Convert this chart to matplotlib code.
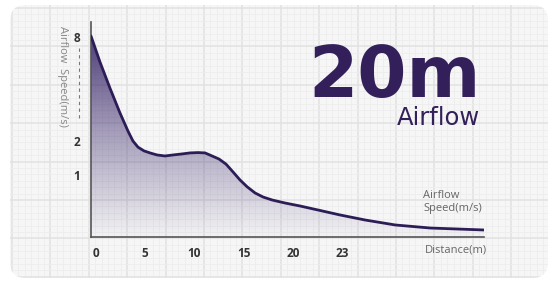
import numpy as np
import matplotlib
matplotlib.use("Agg")
import matplotlib.pyplot as plt
from matplotlib.patches import FancyBboxPatch
from matplotlib.colors import LinearSegmentedColormap
from matplotlib.lines import Line2D

# ---------------- data ----------------
distance = [-0.5, 0.41, 1.42, 2.44, 3.25, 3.76, 4.27, 4.88, 5.49, 6.2, 7.01, 7.83,
            8.74, 9.55, 10.37, 11.08, 11.79, 12.5, 13.21, 13.92, 14.63, 15.35, 16.16,
            16.97, 17.89, 19.21, 20.73, 22.56, 24.8, 27.34, 30.39, 33.94, 39.43]
speed = [8.06, 6.56, 5.06, 3.62, 2.58, 2.0, 1.82, 1.71, 1.65, 1.59, 1.56, 1.59,
         1.62, 1.65, 1.66, 1.65, 1.56, 1.47, 1.32, 1.09, 0.92, 0.81, 0.71,
         0.645, 0.597, 0.548, 0.5, 0.435, 0.355, 0.274, 0.194, 0.145, 0.113]
x_tick_pos = [0, 5, 10, 15, 20, 25]
x_tick_labels = ["0", "5", "10", "15", "20", "23"]
y_ticks = [1, 2, 8]
y_tick_labels = ["1", "2", "8"]
# break-axis mapping of values to visual height
y_vals = [0, 1, 2, 8, 9]
y_vis = [0, 62, 96, 200, 217.3]

W, H = 551, 283
fig = plt.figure(figsize=(W / 100, H / 100), dpi=100)
fig.patch.set_facecolor("white")

# ---------------- background card ----------------
bg = fig.add_axes([0, 0, 1, 1])
bg.set_xlim(0, W)
bg.set_ylim(H, 0)
bg.axis("off")
card = FancyBboxPatch((10, 5), 538, 273, boxstyle="round,pad=0,rounding_size=16",
                      facecolor="#f6f6f6", edgecolor="none")
bg.add_patch(card)
step = 6.4
for i, xv in enumerate(np.arange(12, 548, step)):
    major = i % 6 == 0
    ln = bg.plot([xv, xv], [5, 278], color="#e2e2e2" if major else "#ededed",
                 lw=1.1 if major else 0.6)[0]
    ln.set_clip_path(card)
for i, yv in enumerate(np.arange(8, 278, step)):
    major = i % 6 == 0
    ln = bg.plot([10, 548], [yv, yv], color="#e2e2e2" if major else "#ededed",
                 lw=1.1 if major else 0.6)[0]
    ln.set_clip_path(card)

# ---------------- main chart ----------------
ax_l, ax_r, ax_t, ax_b = 91, 484, 22, 237
ax = fig.add_axes([ax_l / W, 1 - ax_b / H, (ax_r - ax_l) / W, (ax_b - ax_t) / H])
ax.patch.set_alpha(0)

fwd = lambda v: np.interp(v, y_vals, y_vis)
inv = lambda v: np.interp(v, y_vis, y_vals)
ax.set_yscale("function", functions=(fwd, inv))
ax.set_xlim(-0.5, 39.4)
ax.set_ylim(0, 8.87)

line_color = "#2c1d57"
poly = ax.fill_between(distance, speed, 0, color="none", lw=0)
cmap = LinearSegmentedColormap.from_list(
    "g", [(0.24, 0.17, 0.43, 0.02), (0.24, 0.17, 0.43, 0.45), (0.22, 0.15, 0.40, 0.95)])
grad = np.linspace(0, 1, 256).reshape(-1, 1)
im = ax.imshow(grad, extent=[0, 1, 0, 1], transform=ax.transAxes, aspect="auto",
               cmap=cmap, origin="lower", zorder=1)
im.set_clip_path(poly.get_paths()[0], transform=ax.transData)
ax.plot(distance, speed, color=line_color, lw=2.0, zorder=3,
        solid_capstyle="round", solid_joinstyle="round")

for s in ["top", "right"]:
    ax.spines[s].set_visible(False)
for s in ["left", "bottom"]:
    ax.spines[s].set_color("#555555")
    ax.spines[s].set_linewidth(1.2)

ax.set_xticks(x_tick_pos)
ax.set_xticklabels(x_tick_labels)
ax.set_yticks(y_ticks)
ax.set_yticklabels(y_tick_labels)
ax.yaxis.set_minor_locator(matplotlib.ticker.NullLocator())
ax.tick_params(axis="both", length=0, labelcolor="#333333", labelsize=8.5)
ax.tick_params(axis="x", pad=7)
ax.tick_params(axis="y", pad=8)
for lab in ax.get_xticklabels() + ax.get_yticklabels():
    lab.set_fontweight("bold")
    lab.set_family("Open Sans")

# dashed break line between 8 and 2
fig.add_artist(Line2D([79 / W, 79 / W], [1 - 48 / H, 1 - 120 / H], color="#777777",
                      lw=0.8, linestyle=(0, (3, 3))))

# y axis label
fig.text(62 / W, 1 - 76 / H, "Airflow  Speed(m/s)", rotation=-90, ha="center", va="center",
         color="#888888", fontsize=8, family="Open Sans")

# annotations
fig.text(487 / W, 1 - 250 / H, "Distance(m)", ha="right", va="center", color="#666666",
         fontsize=8, family="Open Sans")
fig.text(423 / W, 1 - 202 / H, "Airflow\nSpeed(m/s)", ha="left", va="center", color="#666666",
         fontsize=8, family="Open Sans", linespacing=1.15)

fig.text(481 / W, 1 - 97 / H, "20m", ha="right", va="baseline", color="#33205a",
         fontsize=51, fontweight="bold", family="DejaVu Sans")
fig.text(480 / W, 1 - 125 / H, "Airflow", ha="right", va="baseline", color="#33205a",
         fontsize=17.5, family="DejaVu Sans")

fig.savefig("out.png", dpi=100)
